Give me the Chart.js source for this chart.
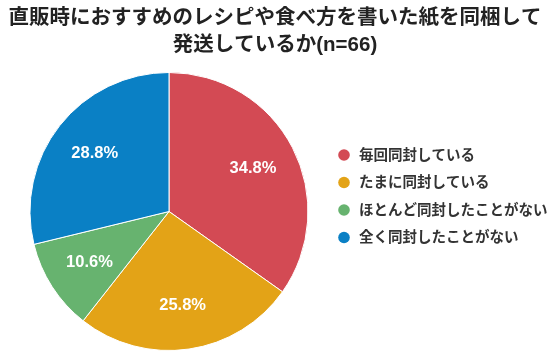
<!DOCTYPE html>
<html>
<head>
<meta charset="utf-8">
<script src="https://cdn.jsdelivr.net/npm/chart.js@4/dist/chart.umd.min.js"></script>
<style>
html,body{margin:0;padding:0;background:#fff;}
#wrap{width:550px;height:358px;position:relative;}
</style>
</head>
<body>
<div id="wrap"><canvas id="c" width="550" height="358"></canvas></div>
<script>
const titleLines = ["直販時におすすめのレシピや食べ方を書いた紙を同梱して", "発送しているか(n=66)"];
const categories = ["毎回同封している", "たまに同封している", "ほとんど同封したことがない", "全く同封したことがない"];
const values = [34.8, 25.8, 10.6, 28.8];
const colors = ["#d34a54", "#e3a317", "#67b36f", "#0a80c5"];

const FONT = "'Liberation Sans', 'Noto Sans CJK JP', sans-serif";

const topTitle = {
  id: 'topTitle',
  afterDraw(chart) {
    const ctx = chart.ctx;
    ctx.save();
    ctx.fillStyle = '#222222';
    ctx.font = 'bold 20.5px ' + FONT;
    ctx.textAlign = 'center';
    ctx.textBaseline = 'middle';
    titleLines.forEach((t, i) => ctx.fillText(t, chart.width / 2, 18 + i * 27));
    ctx.restore();
  }
};

const sliceLabels = {
  id: 'sliceLabels',
  afterDatasetsDraw(chart) {
    const ctx = chart.ctx;
    const meta = chart.getDatasetMeta(0);
    ctx.save();
    ctx.fillStyle = '#ffffff';
    ctx.font = 'bold 16.5px ' + FONT;
    ctx.textAlign = 'center';
    ctx.textBaseline = 'middle';
    meta.data.forEach((arc, i) => {
      const p = arc.getProps(['x','y','startAngle','endAngle','outerRadius'], true);
      const mid = (p.startAngle + p.endAngle) / 2;
      const r = p.outerRadius * 0.68;
      ctx.fillText(values[i].toFixed(1) + '%', p.x + Math.cos(mid) * r, p.y + Math.sin(mid) * r);
    });
    ctx.restore();
  }
};

const sideLegend = {
  id: 'sideLegend',
  afterDraw(chart) {
    const ctx = chart.ctx;
    const x0 = chart.chartArea.right + 6;
    const y0 = 155, step = 27.5;
    ctx.save();
    ctx.font = 'bold 14.5px ' + FONT;
    ctx.textBaseline = 'middle';
    ctx.textAlign = 'left';
    categories.forEach((lab, i) => {
      const y = y0 + i * step;
      ctx.beginPath();
      ctx.fillStyle = colors[i];
      ctx.arc(x0, y, 5.8, 0, Math.PI * 2);
      ctx.fill();
      ctx.fillStyle = '#333333';
      ctx.fillText(lab, x0 + 15, y + 0.5);
    });
    ctx.restore();
  }
};

new Chart(document.getElementById('c'), {
  type: 'pie',
  data: {
    labels: categories,
    datasets: [{
      data: values,
      backgroundColor: colors,
      borderColor: '#ffffff',
      borderWidth: 1
    }]
  },
  options: {
    responsive: false,
    animation: false,
    layout: { padding: { left: 0, right: 212, top: 72, bottom: 7 } },
    plugins: {
      legend: { display: false },
      tooltip: { enabled: false },
      title: { display: false }
    }
  },
  plugins: [sliceLabels, sideLegend, topTitle]
});
</script>
</body>
</html>
